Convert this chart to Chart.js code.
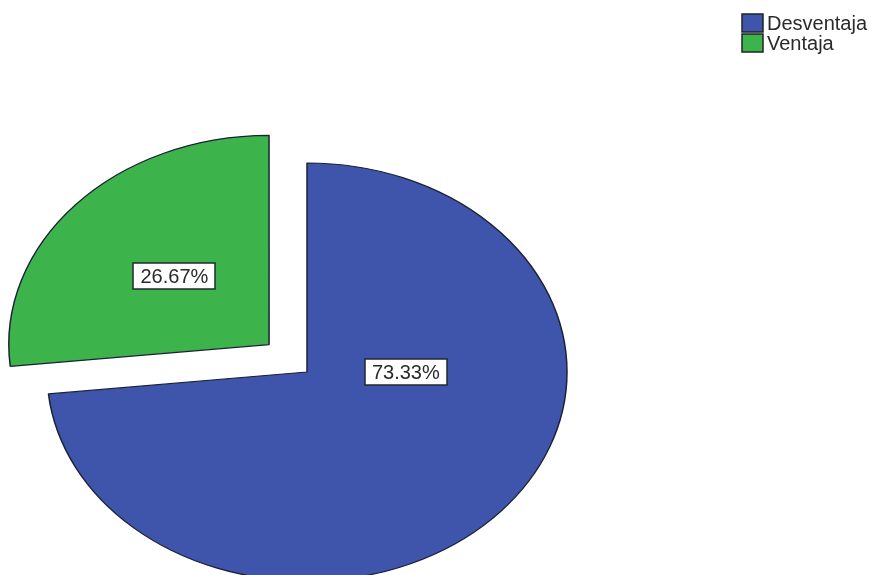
<!DOCTYPE html>
<html>
<head>
<meta charset="utf-8">
<title>Desventaja / Ventaja</title>
<script src="https://cdn.jsdelivr.net/npm/chart.js@4/dist/chart.umd.min.js"></script>
<style>
  html, body { margin: 0; padding: 0; background: #fff; }
  #wrap { width: 874px; height: 575px; }
</style>
</head>
<body>
<div id="wrap"><canvas id="pie-chart" width="874" height="575"></canvas></div>
<script>
// data
var categories = ["Desventaja", "Ventaja"];
var percentages = [73.33, 26.67];
var sliceColors = ["#3e55ab", "#3cb44b"];
var sliceOffsets = [0, 164];   // chart.js moves the slice by offset / 4

// SPSS pies are drawn as a flat ellipse
var stretchX = 1.244;

// where each label sits: angle (deg, clockwise from top, null = middle of slice), fraction of radius
var labelSpots = [{ angle: 90, r: 0.38 }, { angle: null, r: 0.49 }];

function toScreen(chart, px, py) {
  var arc = chart.getDatasetMeta(0).data[0];
  return { x: arc.x + (px - arc.x) * stretchX, y: py };
}

var ellipsePlugin = {
  id: "ellipse",
  beforeDatasetsDraw: function(chart) {
    var arc = chart.getDatasetMeta(0).data[0];
    var ctx = chart.ctx;
    ctx.save();
    ctx.translate(arc.x, arc.y);
    ctx.scale(stretchX, 1);
    ctx.translate(-arc.x, -arc.y);
  },
  afterDatasetsDraw: function(chart) {
    var ctx = chart.ctx;
    ctx.restore();

    // percentage labels in little white boxes
    var meta = chart.getDatasetMeta(0);
    ctx.save();
    ctx.font = "20px 'Liberation Sans', Arial, sans-serif";
    ctx.textAlign = "center";
    ctx.textBaseline = "middle";
    meta.data.forEach(function(arc, i) {
      var half = (arc.startAngle + arc.endAngle) / 2;
      var shift = (sliceOffsets[i] || 0) / 4;
      var cx = arc.x + Math.cos(half) * shift;
      var cy = arc.y + Math.sin(half) * shift;
      var spot = labelSpots[i];
      var a = spot.angle === null ? half : (spot.angle - 90) * Math.PI / 180;
      var p = toScreen(chart, cx + Math.cos(a) * arc.outerRadius * spot.r,
                              cy + Math.sin(a) * arc.outerRadius * spot.r);
      var txt = percentages[i].toFixed(2) + "%";
      var w = ctx.measureText(txt).width + 14;
      var h = 26;
      ctx.fillStyle = "#ffffff";
      ctx.fillRect(Math.round(p.x - w / 2), Math.round(p.y - h / 2), Math.round(w), h);
      ctx.strokeStyle = "#1e2a30";
      ctx.lineWidth = 1.5;
      ctx.strokeRect(Math.round(p.x - w / 2), Math.round(p.y - h / 2), Math.round(w), h);
      ctx.fillStyle = "#2a2a2a";
      ctx.fillText(txt, p.x, p.y + 1);
    });
    ctx.restore();
  }
};

// legend, stacked in the top right corner
var cornerLegend = {
  id: "cornerLegend",
  afterDraw: function(chart) {
    var ctx = chart.ctx;
    ctx.save();
    ctx.font = "20px 'Liberation Sans', Arial, sans-serif";
    ctx.textBaseline = "middle";
    ctx.textAlign = "left";
    chart.data.labels.forEach(function(lbl, i) {
      var y = 14 + i * 20;
      ctx.fillStyle = sliceColors[i];
      ctx.fillRect(742, y, 21, 18);
      ctx.strokeStyle = "#222";
      ctx.lineWidth = 1.5;
      ctx.strokeRect(742, y, 21, 18);
      ctx.fillStyle = "#2a2a2a";
      ctx.fillText(lbl, 767, y + 10);
    });
    ctx.restore();
  }
};

new Chart(document.getElementById("pie-chart"), {
  type: "pie",
  data: {
    labels: categories,
    datasets: [
      {
        data: percentages,
        backgroundColor: sliceColors,
        borderColor: "#1c2236",
        borderWidth: 1.2,
        offset: sliceOffsets,
        hoverOffset: 0,
        clip: false
      }
    ]
  },
  options: {
    responsive: false,
    animation: false,
    radius: 209,
    layout: { padding: { left: 0, right: 260, top: 169, bottom: 0 } },
    plugins: {
      legend: { display: false },
      tooltip: { enabled: false }
    }
  },
  plugins: [ellipsePlugin, cornerLegend]
});
</script>
</body>
</html>
